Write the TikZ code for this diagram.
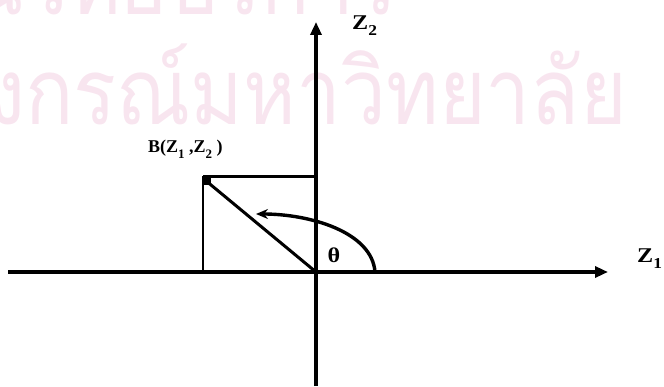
\documentclass[tikz,border=0pt]{standalone}
\usepackage{fontspec}
\setmainfont{Liberation Serif}
\newfontfamily\lblfont[FakeStretch=1.15]{Liberation Serif}
\newfontfamily\thaifont[Script=Thai,FakeStretch=0.87]{Loma}
\usetikzlibrary{arrows.meta}
\definecolor{wm}{RGB}{248,229,239}
\newcommand\lowsub[1]{\raisebox{-0.28em}{\scalebox{0.72}{#1}}}
\tikzset{
  axis/.style={line width=3.2pt,-{Triangle[length=13pt,width=11pt]}},
  thinline/.style={line width=1.5pt},
  thickline/.style={line width=3pt},
  lbl/.style={font=\lblfont\bfseries\fontsize{21}{21}\selectfont,inner sep=0pt},
  blbl/.style={font=\bfseries\fontsize{18}{18}\selectfont,inner sep=0pt},
  wmark/.style={text=wm,font=\thaifont\fontsize{92}{92}\selectfont,inner sep=0pt,anchor=base east}
}
\begin{document}
\begin{tikzpicture}[x=1pt,y=-1pt]
\useasboundingbox (0,0) rectangle (664,387);
\clip (0,0) rectangle (664,387);
\node[wmark] (wm1) at (398,15) {สถาบันวิทยบริการ};
\node[wmark] (wm2) at (627,125) {จุฬาลงกรณ์มหาวิทยาลัย};
\coordinate (O) at (316,272);
\coordinate (xs) at (8,272);
\coordinate (xe) at (608,272);
\coordinate (ys) at (316,386);
\coordinate (ye) at (316,22);
\coordinate (B) at (205,180);
\coordinate (Bx) at (203,272);
\coordinate (Bt) at (203,177);
\coordinate (By) at (316,177);
\draw[axis] (xs) -- (xe);
\draw[axis] (ys) -- (ye);
\draw[thinline] (Bt) -- (Bx);
\draw[thickline] (Bt) -- (By);
\draw[thickline] (O) -- (B);
\fill (202,176) rectangle (211,185);
\coordinate (as) at (375,272);
\coordinate (ae) at (256,214);
\draw[line width=3.4pt,-{Stealth[length=12pt,width=10pt]}] (as) .. controls (372,232) and (310,214) .. (ae);
\node[lbl,anchor=base west] (z1) at (637,263) {Z\lowsub{1}};
\node[lbl,anchor=base west] (z2) at (352,30) {Z\lowsub{2}};
\node[lbl,anchor=base] (th) at (334,263) {θ};
\node[blbl,anchor=base west] (bl) at (148,153) {B(Z\lowsub{1} ,Z\lowsub{2} )};
\end{tikzpicture}
\end{document}
